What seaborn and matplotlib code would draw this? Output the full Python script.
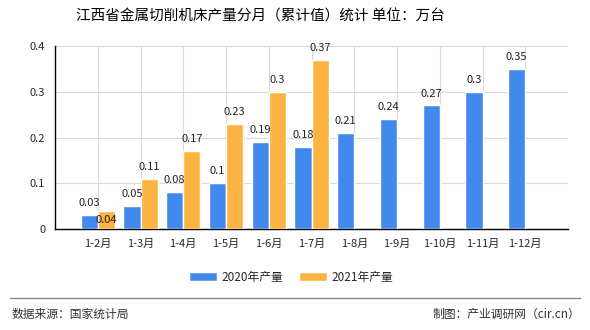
import matplotlib
matplotlib.use("Agg")
import matplotlib.pyplot as plt
import seaborn as sns
import pandas as pd
import numpy as np
from matplotlib.patches import Patch
from matplotlib.lines import Line2D

categories = ["1-2月", "1-3月", "1-4月", "1-5月", "1-6月", "1-7月", "1-8月", "1-9月", "1-10月", "1-11月", "1-12月"]
series_names = ["2020年产量", "2021年产量"]
values_2020 = [0.03, 0.05, 0.08, 0.1, 0.19, 0.18, 0.21, 0.24, 0.27, 0.3, 0.35]
values_2021 = [0.04, 0.11, 0.17, 0.23, 0.3, 0.37]
y_ticks = [0, 0.1, 0.2, 0.3, 0.4]
title = "江西省金属切削机床产量分月（累计值）统计 单位：万台"
source = "数据来源：国家统计局"
credit = "制图：产业调研网（cir.cn）"

colors = ["#4289EE", "#FDB341"]

rows = []
for c, v in zip(categories, values_2020):
    rows.append({"月份": c, "系列": series_names[0], "值": v})
for c, v in zip(categories, values_2021):
    rows.append({"月份": c, "系列": series_names[1], "值": v})
df = pd.DataFrame(rows)

sns.set_theme(style="white")
plt.rcParams["font.family"] = ["Noto Sans CJK SC", "DejaVu Sans"]

fig = plt.figure(figsize=(5.9, 3.3), dpi=100)
ax = fig.add_axes([55/590, 1-229/330, (568-55)/590, (229-46)/330])

sns.barplot(data=df, x="月份", y="值", hue="系列", order=categories,
            hue_order=series_names, palette=colors, width=0.8,
            saturation=1, ax=ax, legend=False, zorder=3)

ax.set_xlim(-1, len(categories))
ax.set_ylim(0, 0.4)
ax.set_yticks(y_ticks)
ax.set_yticklabels([f"{t:g}" for t in y_ticks], fontsize=8)
ax.set_xticks(range(len(categories)))
ax.set_xticklabels(categories, fontsize=8)
ax.set_xlabel("")
ax.set_ylabel("")

ax.grid(True, axis="both", color="#d9d9d9", linewidth=0.8, zorder=0)
ax.set_axisbelow(True)
for s in ["top", "right"]:
    ax.spines[s].set_visible(False)
for s in ["left", "bottom"]:
    ax.spines[s].set_color("black")
    ax.spines[s].set_linewidth(1)
ax.tick_params(axis="both", which="both", direction="out", length=4, width=1, color="black", pad=3)
ax.set_xticks([-1, len(categories)], minor=True)

# value labels
for i, v in enumerate(values_2020):
    ax.annotate(f"{v:g}", (i - 0.2, v), xytext=(0, 5), textcoords="offset points",
                ha="center", va="bottom", fontsize=8, color="#222222", zorder=5)
for i, v in enumerate(values_2021):
    off = -10 if i == 0 else 5
    ax.annotate(f"{v:g}", (i + 0.2, v), xytext=(0, off), textcoords="offset points",
                ha="center", va="bottom", fontsize=8, color="#222222", zorder=5)

fig.text(260/590, 1-17/330, title, ha="center", va="center", fontsize=10.5, color="black")

handles = [Patch(facecolor=colors[0]), Patch(facecolor=colors[1])]
fig.legend(handles, series_names, loc="center", bbox_to_anchor=(291/590, 1-277/330),
           ncol=2, frameon=False, fontsize=8.5, handlelength=2.4, handleheight=0.8,
           columnspacing=1.3, handletextpad=0.4)

fig.add_artist(Line2D([10/590, 580/590], [1-298/330, 1-298/330], color="#888888", linewidth=1))
fig.text(12/590, 1-314/330, source, ha="left", va="center", fontsize=8.5, color="#333333")
fig.text(580/590, 1-314/330, credit, ha="right", va="center", fontsize=8.5, color="#333333")

fig.savefig("out.png", dpi=100)
